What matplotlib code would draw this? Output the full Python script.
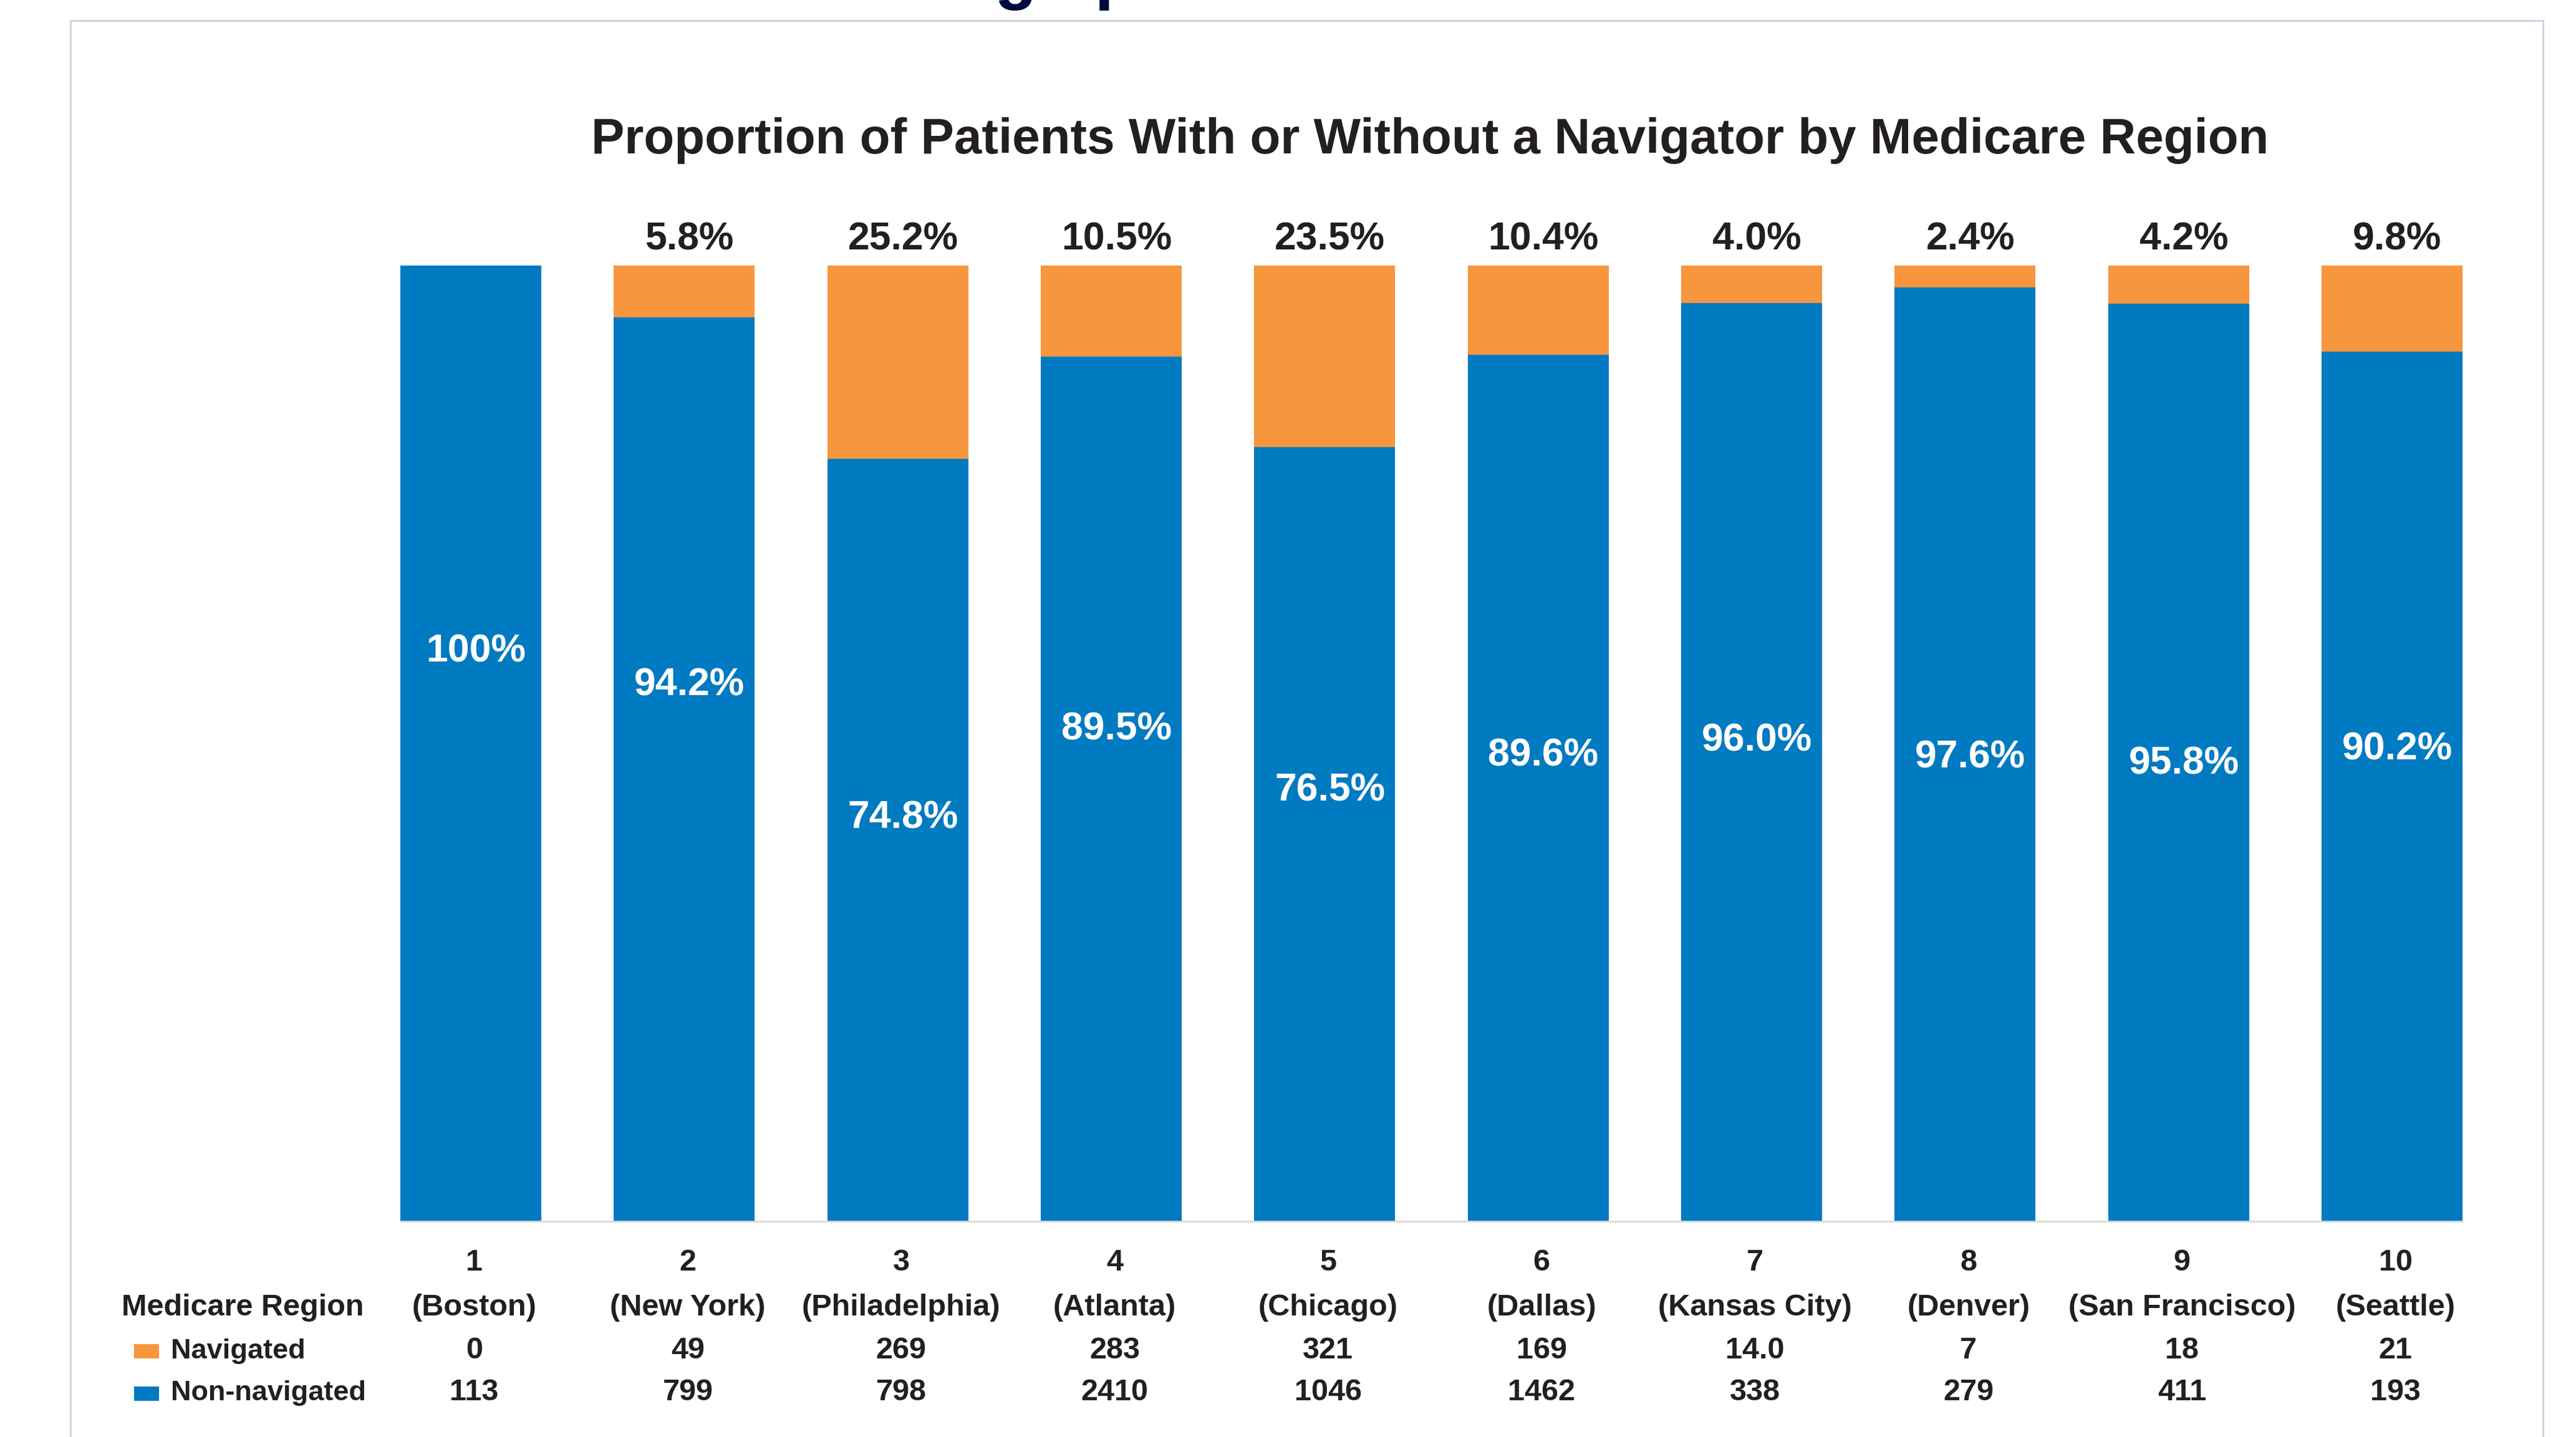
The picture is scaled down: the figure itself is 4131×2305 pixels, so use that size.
import matplotlib
matplotlib.use("Agg")
import matplotlib.pyplot as plt
from matplotlib import transforms
from matplotlib.patches import Rectangle

plt.rcParams["font.family"] = ["Liberation Sans", "DejaVu Sans"]
plt.rcParams["font.weight"] = "bold"

# --- data ---
region_num = ["1", "2", "3", "4", "5", "6", "7", "8", "9", "10"]
region_city = ["(Boston)", "(New York)", "(Philadelphia)", "(Atlanta)", "(Chicago)",
               "(Dallas)", "(Kansas City)", "(Denver)", "(San Francisco)", "(Seattle)"]
n_navigated = ["0", "49", "269", "283", "321", "169", "14.0", "7", "18", "21"]
n_non_navigated = ["113", "799", "798", "2410", "1046", "1462", "338", "279", "411", "193"]
label_navigated = ["", "5.8%", "25.2%", "10.5%", "23.5%", "10.4%", "4.0%", "2.4%", "4.2%", "9.8%"]
label_non_navigated = ["100%", "94.2%", "74.8%", "89.5%", "76.5%", "89.6%", "96.0%", "97.6%", "95.8%", "90.2%"]
# segment heights as drawn (percent of bar)
share_non_navigated = [100, 94.6, 79.8, 90.5, 81.0, 90.7, 96.1, 97.7, 96.0, 91.0]
share_navigated = [0, 5.4, 20.2, 9.5, 19.0, 9.3, 3.9, 2.3, 4.0, 9.0]

# layout: vertical spot of the white labels inside the blue bars (% of axis)
inner_label_y = [59.6, 56.1, 42.2, 51.5, 45.1, 48.7, 50.3, 48.5, 47.9, 49.4]

BLUE = "#007AC1"
ORANGE = "#F8963E"
TEXT = "#231F20"
W, H = 4131, 2305

fig = plt.figure(figsize=(W / 100, H / 100), dpi=100)
fig.patch.set_facecolor("white")

# slide frame and the cut-off slide heading
fig.patches.append(Rectangle((113 / W, -0.05), (4078 - 113) / W, 1.05 - 33 / H,
                             transform=fig.transFigure, fill=False,
                             edgecolor="#D0D4E0", linewidth=2.2))
fig.text(1595 / W, 1 + 6 / H, "gs p", color="#020840", fontsize=80,
         ha="left", va="baseline")

ax = fig.add_axes([642 / W, 346 / H, 3307 / W, 1533 / H])
x = list(range(len(region_num)))
ax.bar(x, share_non_navigated, width=0.66, color=BLUE, linewidth=0)
ax.bar(x, share_navigated, width=0.66, bottom=share_non_navigated, color=ORANGE, linewidth=0)
ax.set_xlim(-0.33, len(x) - 1 + 0.33)
ax.set_ylim(0, 100)
for s in ["top", "left", "right"]:
    ax.spines[s].set_visible(False)
ax.spines["bottom"].set_color("#D9D9D9")
ax.spines["bottom"].set_linewidth(2)
ax.set_xticks([])
ax.set_yticks([])

# labels in the reference sit a few pixels right of the bar centres
shift = transforms.offset_copy(ax.transData, fig=fig, x=6, y=0, units="points")
for i in x:
    if label_navigated[i]:
        ax.annotate(label_navigated[i], (i, 100), xytext=(6, 18.5), textcoords="offset points",
                    ha="center", va="baseline", fontsize=45, color=TEXT)
    ax.text(i, inner_label_y[i], label_non_navigated[i], transform=shift,
            ha="center", va="center", fontsize=45, color="white")

fig.text(2293 / W, 1 - 246 / H,
         "Proportion of Patients With or Without a Navigator by Medicare Region",
         ha="center", va="baseline", fontsize=57.5, color=TEXT)

# data table under the bars
tr = transforms.blended_transform_factory(ax.transData, fig.transFigure)
tr = transforms.offset_copy(tr, fig=fig, x=4, y=0, units="points")
rows = [(region_num, 2038), (region_city, 2110), (n_navigated, 2179), (n_non_navigated, 2246)]
for values, base in rows:
    for i, v in zip(x, values):
        ax.text(i, 1 - base / H, v, transform=tr, ha="center", va="baseline",
                fontsize=35, color=TEXT, clip_on=False)

fig.text(195 / W, 1 - 2110 / H, "Medicare Region", ha="left", va="baseline",
         fontsize=35, color=TEXT)
for name, color, base, top in [("Navigated", ORANGE, 2179, 2156),
                               ("Non-navigated", BLUE, 2246, 2224)]:
    fig.patches.append(Rectangle((215 / W, 1 - (top + 23) / H), 40 / W, 23 / H,
                                 transform=fig.transFigure, color=color, linewidth=0))
    fig.text(274 / W, 1 - base / H, name, ha="left", va="baseline", fontsize=32.5, color=TEXT)

fig.savefig("out.png", dpi=100)
